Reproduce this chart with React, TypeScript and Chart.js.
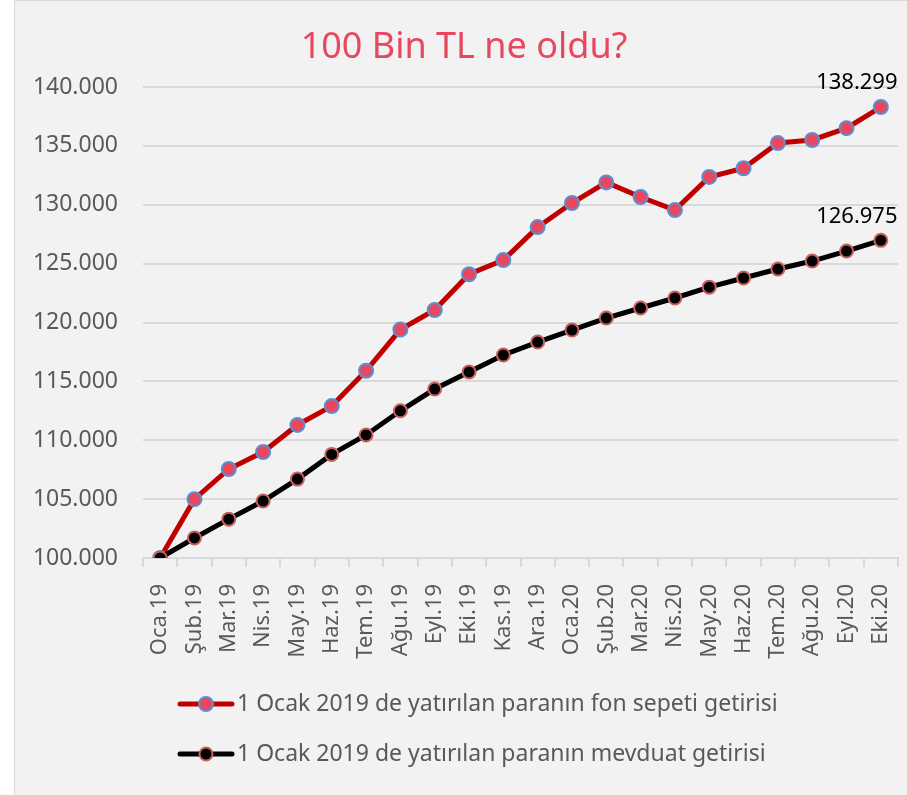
import React, { useEffect, useRef } from "react";
import { Chart, registerables } from "chart.js";

Chart.register(...registerables);

const categories = ["Oca.19","Şub.19","Mar.19","Nis.19","May.19","Haz.19","Tem.19","Ağu.19","Eyl.19","Eki.19","Kas.19","Ara.19","Oca.20","Şub.20","Mar.20","Nis.20","May.20","Haz.20","Tem.20","Ağu.20","Eyl.20","Eki.20"];
const fundValues = [100000, 105000, 107560, 109000, 111300, 112900, 115900, 119400, 121060, 124100, 125300, 128100, 130150, 131900, 130660, 129550, 132360, 133100, 135240, 135500, 136500, 138299];
const depositValues = [100000, 101700, 103300, 104840, 106700, 108800, 110450, 112500, 114350, 115800, 117240, 118340, 119360, 120380, 121230, 122080, 123000, 123780, 124540, 125220, 126070, 126975];
const seriesNames = [
  "1 Ocak 2019 de yatırılan paranın fon sepeti getirisi",
  "1 Ocak 2019 de yatırılan paranın mevduat getirisi",
];
const titleText = "100 Bin TL ne oldu?";
const yMin = 100000;
const yMax = 140000;
const yStep = 5000;

const FONT = "'Noto Sans', sans-serif";
const fmt = (v: number) => String(Math.round(v)).replace(/\B(?=(\d{3})+(?!\d))/g, ".");

export default function App() {
  const ref = useRef<HTMLCanvasElement>(null);
  useEffect(() => {
    if (!ref.current) return;
    const overlay = {
      id: "overlay",
      afterDraw(chart: any) {
        const ctx = chart.ctx;
        ctx.save();
        // title
        ctx.font = `36px ${FONT}`;
        ctx.fillStyle = "#e8475f";
        ctx.textAlign = "center";
        ctx.textBaseline = "alphabetic";
        ctx.fillText(titleText, 449, 57);
        // data labels on last points
        ctx.font = `22px ${FONT}`;
        ctx.fillStyle = "#000000";
        ctx.textAlign = "center";
        ctx.textBaseline = "middle";
        chart.data.datasets.forEach((ds: any, i: number) => {
          const meta = chart.getDatasetMeta(i);
          const el = meta.data[meta.data.length - 1];
          ctx.fillText(fmt(ds.data[ds.data.length - 1]), el.x - 24, el.y - 24);
        });
        // legend
        chart.data.datasets.forEach((ds: any, i: number) => {
          const y = 703 + i * 50;
          ctx.strokeStyle = ds.borderColor;
          ctx.lineWidth = 5;
          ctx.lineCap = "round";
          ctx.beginPath();
          ctx.moveTo(165, y);
          ctx.lineTo(217, y);
          ctx.stroke();
          ctx.beginPath();
          ctx.arc(191, y, ds.pointRadius, 0, Math.PI * 2);
          ctx.fillStyle = ds.pointBackgroundColor;
          ctx.fill();
          ctx.lineWidth = ds.pointBorderWidth;
          ctx.strokeStyle = ds.pointBorderColor;
          ctx.stroke();
          ctx.font = `23px ${FONT}`;
          ctx.fillStyle = "#595959";
          ctx.textAlign = "left";
          ctx.textBaseline = "middle";
          ctx.fillText(ds.label, 222, y);
        });
        ctx.restore();
      },
    };
    const chart = new Chart(ref.current, {
      type: "line",
      data: {
        labels: categories,
        datasets: [
          {
            label: seriesNames[0],
            data: fundValues,
            order: 2,
            borderColor: "#c00000",
            borderWidth: 5,
            pointRadius: 7,
            pointBackgroundColor: "#e8475f",
            pointBorderColor: "#5b8fd0",
            pointBorderWidth: 2,
            tension: 0,
          },
          {
            label: seriesNames[1],
            data: depositValues,
            order: 1,
            borderColor: "#000000",
            borderWidth: 5,
            pointRadius: 6.5,
            pointBackgroundColor: "#000000",
            pointBorderColor: "#c9605c",
            pointBorderWidth: 2,
            tension: 0,
          },
        ],
      },
      options: {
        animation: false,
        responsive: false,
        maintainAspectRatio: false,
        layout: { padding: { top: 86, right: 9, left: 0, bottom: 0 } },
        plugins: { legend: { display: false }, title: { display: false }, tooltip: { enabled: false } },
        scales: {
          x: {
            offset: true,
            afterFit: (s: any) => { s.height = 237; s.paddingLeft = 0; s.paddingRight = 0; },
            grid: { offset: true, drawOnChartArea: false, drawTicks: true, tickLength: 9, color: "#d9d9d9", lineWidth: 2 },
            border: { display: true, color: "#d9d9d9", width: 2 },
            ticks: { minRotation: 90, maxRotation: 90, autoSkip: false, padding: 17, color: "#595959", font: { family: FONT, size: 22 } },
          },
          y: {
            min: yMin,
            max: yMax,
            afterFit: (s: any) => { s.width = 128; s.paddingTop = 0; s.paddingBottom = 0; },
            grid: { drawTicks: false, color: "#d9d9d9", lineWidth: 2 },
            border: { display: false },
            ticks: { stepSize: yStep, padding: 25, color: "#595959", font: { family: FONT, size: 23 }, callback: (v: any) => fmt(Number(v)) },
          },
        },
      },
      plugins: [overlay],
    });
    return () => chart.destroy();
  }, []);
  return (
    <div style={{ position: "fixed", left: 14, top: 0, width: 893, height: 795, background: "#f2f2f2", borderLeft: "1px solid #d9d9d9", borderTop: "1px solid #d9d9d9", boxSizing: "border-box" }}>
      <canvas ref={ref} width={892} height={794} style={{ display: "block", width: 892, height: 794 }} />
    </div>
  );
}
